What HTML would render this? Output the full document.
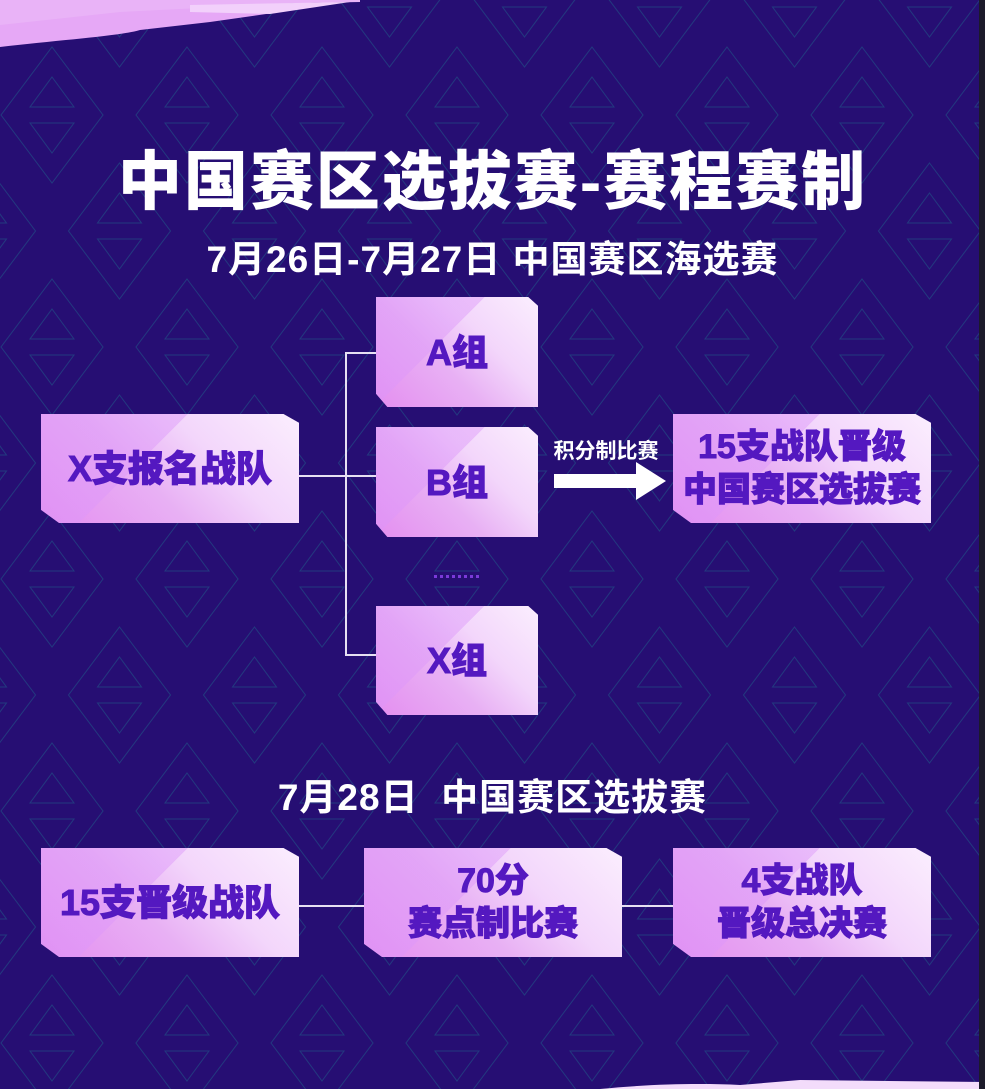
<!DOCTYPE html>
<html><head><meta charset="utf-8"><style>
body{margin:0;width:985px;height:1089px;overflow:hidden;background:#260e73;position:relative;font-family:"Liberation Sans","Noto Sans CJK SC",sans-serif}
.abs{position:absolute}
.box{position:absolute;clip-path:polygon(0 0,94% 0,100% 8%,100% 100%,7% 100%,0 88%);background:linear-gradient(225deg,#fbeefe 0%,#f3d6fb 35%,#e8b0f4 60%,#e48ef0 100%);display:flex;align-items:center;justify-content:center;flex-direction:column;color:#5418c0;font-weight:900;text-align:center;line-height:1.25}
.box::before{content:"";position:absolute;left:0;top:0;width:100%;height:100%;background:linear-gradient(135deg,rgba(220,150,250,.45) 0 40%,rgba(255,255,255,0) 40%)}
.box span{position:relative;-webkit-text-stroke:1px #5418c0}
.t{color:#fff;font-weight:700;text-align:center;position:absolute;white-space:nowrap}
.line{position:absolute;background:#e6e0f2}
</style></head><body>
<svg class="abs" style="left:0;top:0" width="985" height="1089">
<defs><pattern id="p" width="135" height="232" patternUnits="userSpaceOnUse">
<g fill="none" stroke="#22397f" stroke-width="1">
<g id="d"><path d="M52 47 L103 115 L52 183 L1 115 Z M52 77 L74 107 L30 107 Z M52 153 L74 123 L30 123 Z"/></g>
<use href="#d" x="67.5" y="116"/><use href="#d" x="-67.5" y="116"/><use href="#d" x="67.5" y="-116"/><use href="#d" x="-67.5" y="-116"/>
</g></pattern></defs>
<rect width="985" height="1089" fill="url(#p)"/>
<path d="M0 45 L0 30 C40 25 80 20 130 15 L200 10 C240 4 300 3 360 2 L360 0 L0 0Z" fill="#e9b3f7"/>
<path d="M0 47 C60 40 120 36 140 30 L210 22 L280 12 L200 8 L120 12 L0 25Z" fill="#e6a8f6"/>
<path d="M190 5 L350 2 L270 14 L190 12Z" fill="#f2d0fb"/>
<path d="M600 1089 C650 1084 700 1083 740 1085 L800 1080 L985 1082 L985 1089Z" fill="#f3dcfb"/>
<rect x="979" y="0" width="6" height="1089" fill="#1c1a2a"/>
</svg>
<div class="t" style="left:0;width:985px;top:131px;font-size:64px;font-weight:900;letter-spacing:2px">中国赛区选拔赛-赛程赛制</div>
<div class="t" style="left:0;width:985px;top:229px;font-size:37px;letter-spacing:1px">7月26日-7月27日 中国赛区海选赛</div>
<div class="line" style="left:345px;top:352px;width:2px;height:304px"></div>
<div class="line" style="left:345px;top:352px;width:31px;height:2px"></div>
<div class="line" style="left:299px;top:475px;width:77px;height:2px"></div>
<div class="line" style="left:345px;top:654px;width:31px;height:2px"></div>
<div class="box" style="left:41px;top:414px;width:258px;height:109px;font-size:36px"><span>X支报名战队</span></div>
<div class="box" style="left:376px;top:297px;width:162px;height:110px;font-size:36px"><span>A组</span></div>
<div class="box" style="left:376px;top:427px;width:162px;height:110px;font-size:36px"><span>B组</span></div>
<div class="box" style="left:376px;top:606px;width:162px;height:109px;font-size:36px"><span>X组</span></div>
<div class="abs" style="left:434px;top:575px;width:46px;height:3px;background:repeating-linear-gradient(90deg,#7a3ad8 0 3px,transparent 3px 6px)"></div>
<div class="t" style="left:550px;top:435px;font-size:21px;width:112px">积分制比赛</div>
<svg class="abs" style="left:554px;top:462px" width="115" height="38"><path d="M0 12 H82 V0 L112 19 L82 38 V26 H0Z" fill="#fff"/></svg>
<div class="box" style="left:673px;top:414px;width:258px;height:109px;font-size:34px"><span>15支战队晋级<br>中国赛区选拔赛</span></div>
<div class="t" style="left:0;width:985px;top:767px;font-size:37px;letter-spacing:1px">7月28日&nbsp; 中国赛区选拔赛</div>
<div class="line" style="left:299px;top:905px;width:65px;height:2px"></div>
<div class="line" style="left:622px;top:905px;width:51px;height:2px"></div>
<div class="box" style="left:41px;top:848px;width:258px;height:109px;font-size:36px"><span>15支晋级战队</span></div>
<div class="box" style="left:364px;top:848px;width:258px;height:109px;font-size:34px"><span>70分<br>赛点制比赛</span></div>
<div class="box" style="left:673px;top:848px;width:258px;height:109px;font-size:34px"><span>4支战队<br>晋级总决赛</span></div>
</body></html>
